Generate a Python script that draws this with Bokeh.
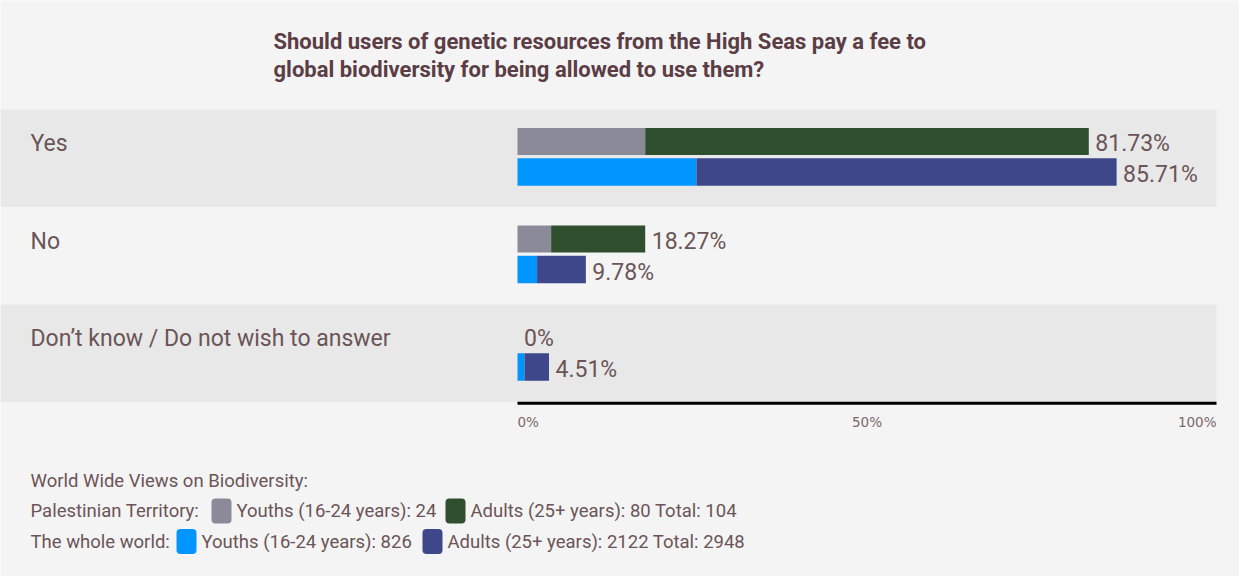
from bokeh.plotting import figure
from bokeh.models import Range1d
from bokeh.core.properties import value
from bokeh.embed import file_html
from bokeh.resources import INLINE

# ---------------- data ----------------
title_lines = [
    "Should users of genetic resources from the High Seas pay a fee to",
    "global biodiversity for being allowed to use them?",
]
categories = ["Yes", "No", "Don\u2019t know / Do not wish to answer"]
pal_youth = [18.27, 4.81, 0.0]
pal_total = [81.73, 18.27, 0.0]
world_youth = [25.6, 2.8, 1.0]
world_total = [85.71, 9.78, 4.51]
tick_values = [0, 50, 100]
tick_labels = ["0%", "50%", "100%"]
legend_title = "World Wide Views on Biodiversity:"
region_names = ["Palestinian Territory:", "The whole world:"]
youth_counts = [24, 826]
adult_counts = [80, 2122]
total_counts = [104, 2948]

# ---------------- style ----------------
PANEL = "#f4f4f4"
BAND = "#e8e8e8"
TXT = "#6b5457"
TITLE_C = "#5a3d45"
C_PAL_Y = "#8b8a99"
C_PAL_A = "#2f4f2f"
C_WLD_Y = "#0095ff"
C_WLD_A = "#3d478a"
FONT = "Roboto"

# ---------------- layout ----------------
W, H = 1239, 576
OFF = 8
X0_PX, X100_PX = 525, 1224
K = (X100_PX - X0_PX) / 100.0


def px(page_x):
    return (page_x - X0_PX) / K


BAND_TOP0 = 117.0
BAND_H = 97.5

p = figure(width=W, height=H, output_backend="svg", toolbar_location=None,
           x_range=Range1d(px(OFF), px(OFF + W)), y_range=Range1d(OFF + H, OFF),
           min_border=0, min_border_left=0, min_border_right=0,
           min_border_top=0, min_border_bottom=0)
p.axis.visible = False
p.grid.visible = False
p.outline_line_color = None
p.background_fill_color = PANEL
p.border_fill_color = PANEL

n = len(categories)
tops = [BAND_TOP0 + BAND_H * i for i in range(n)]

# bands
dark = [i for i in range(n) if i % 2 == 0]
p.quad(left=[px(OFF)] * len(dark), right=[100] * len(dark),
       top=[tops[i] for i in dark], bottom=[tops[i] + BAND_H for i in dark],
       fill_color=BAND, line_color=None)

# bars
pal_y = [t + 32 for t in tops]
wld_y = [t + 62.5 for t in tops]
p.hbar(y=pal_y, left=[0] * n, right=pal_youth, height=27, fill_color=C_PAL_Y, line_color=None)
p.hbar(y=pal_y, left=pal_youth, right=pal_total, height=27, fill_color=C_PAL_A, line_color=None)
p.hbar(y=wld_y, left=[0] * n, right=world_youth, height=27.5, fill_color=C_WLD_Y, line_color=None)
p.hbar(y=wld_y, left=world_youth, right=world_total, height=27.5, fill_color=C_WLD_A, line_color=None)

# value labels
gap = 6.5 / K
vals = pal_total + world_total
p.text(x=[v + gap for v in vals],
       y=[t + 34 for t in tops] + [t + 65 for t in tops],
       text=[f"{v:g}%" for v in vals],
       text_font=value(FONT), text_font_size="23px", text_color=TXT,
       text_baseline="middle", text_align="left")

# category labels
p.text(x=[px(38)] * n, y=[t + 34 for t in tops], text=categories,
       text_font=value(FONT), text_font_size="23px", text_color=TXT,
       text_baseline="middle", text_align="left")

# title
p.text(x=[px(281)] * 2, y=[48.5, 76.5], text=title_lines,
       text_font=value(FONT), text_font_size="22px", text_font_style="bold",
       text_color=TITLE_C, text_baseline="middle", text_align="left")

# axis line + tick labels
p.segment(x0=[0], x1=[100], y0=[410.8], y1=[410.8], line_color="black", line_width=3)
aligns = ["left", "center", "right"]
for tv, tl, al in zip(tick_values, tick_labels, aligns):
    p.text(x=[tv], y=[429], text=[tl], text_font=value("DejaVu Sans"),
           text_font_size="13.5px", text_color="#7a686b",
           text_baseline="middle", text_align=al)

# legend
LEG = dict(text_font=value(FONT), text_font_size="18.5px", text_color=TXT,
           text_baseline="middle", text_align="left")
p.text(x=[px(38)], y=[488], text=[legend_title], **LEG)
row_y = [518.5, 549]
text_x = [[38, 244, 478], [38, 209, 455]]
sw_x = [[229, 463], [194, 440]]
sw_c = [[C_PAL_Y, C_PAL_A], [C_WLD_Y, C_WLD_A]]
for r in range(2):
    texts = [region_names[r],
             f"Youths (16-24 years): {youth_counts[r]}",
             f"Adults (25+ years): {adult_counts[r]} Total: {total_counts[r]}"]
    p.text(x=[px(v) for v in text_x[r]], y=[row_y[r]] * 3, text=texts, **LEG)
    p.rect(x=[px(v) for v in sw_x[r]], y=[row_y[r]] * 2, width=20 / K, height=25,
           fill_color=sw_c[r], line_color=None, border_radius=4)

open("out.html", "w").write(file_html(p, INLINE))
